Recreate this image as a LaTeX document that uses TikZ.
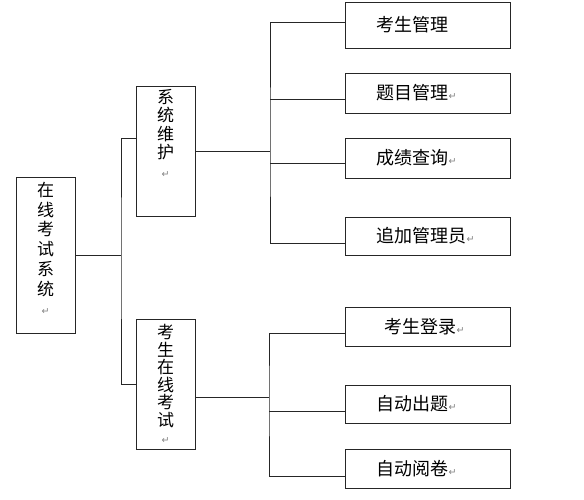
\documentclass[tikz,border=0pt]{standalone}
\usepackage{fontspec}
\newfontfamily\cjk{Noto Sans CJK SC}
\newfontfamily\symfont{DejaVu Sans}
\newcommand{\ret}{{\symfont\color{gray}\fontsize{9.5}{9.5}\selectfont ↵}}

\begin{document}
\begin{tikzpicture}[x=1pt, y=-1pt,
	box/.style={draw=black!85, line width=0.9pt, minimum width=165pt, minimum height=40pt, inner sep=0pt, text width=102pt, align=left, font=\cjk\fontsize{18}{18}\selectfont},
	vbox/.style={draw=black!85, line width=0.9pt, minimum width=59pt, minimum height=130pt, inner sep=0pt, align=center, font=\cjk\fontsize{17}{#1}\selectfont},
	vbox/.default=18.5pt,
	link/.style={draw=black!85, line width=0.9pt}]
		\useasboundingbox (0,0) rectangle (584,500);

		\node [vbox=19.7pt, minimum height=156pt, text depth=13pt] (root) at (45.5,255) {在\\线\\考\\试\\系\\统\\\ret};
		\node [vbox, text depth=36pt] (sys) at (165.5,151) {系\\统\\维\\护\\\ret};
		\node [vbox=17.5pt] (exam) at (165.5,384) {考\\生\\在\\线\\考\\试\\\ret};

		\node [box, minimum height=46pt] (r1) at (427.5,25) {考生管理};
		\node [box] (r2) at (427.5,93) {题目管理\ret};
		\node [box] (r3) at (427.5,158) {成绩查询\ret};
		\node [box, minimum height=38pt] (r4) at (427.5,236) {追加管理员\ret};
		\node [box, minimum height=39pt] (r5) at (427.5,326.5) {\hspace*{8pt}考生登录\ret};
		\node [box, minimum height=38pt] (r6) at (427.5,404) {自动出题\ret};
		\node [box, minimum height=39pt] (r7) at (427.5,468.5) {自动阅卷\ret};

		\coordinate (lv) at (121,255);
		\coordinate (tv) at (270,151);
		\coordinate (bv) at (269,397);

		\path[link] (root.east) -- (lv);
		\path[link] ([yshift=13pt]sys.west) -| (lv) |- (exam.west);

		\path[link] (sys.east) -- (tv);
		\path[link] ([yshift=3pt]r1.west) -| (tv) |- ([yshift=-7pt]r4.west);
		\path[link] ([yshift=-6pt]r2.west) -- ++(-75,0);
		\path[link] ([yshift=-5pt]r3.west) -- ++(-75,0);

		\path[link] ([yshift=-13pt]exam.east) -- (bv);
		\path[link] ([yshift=-6.5pt]r5.west) -| (bv) |- ([yshift=-7.5pt]r7.west);
		\path[link] ([yshift=-7pt]r6.west) -- ++(-76,0);
	\end{tikzpicture}
\end{document}
